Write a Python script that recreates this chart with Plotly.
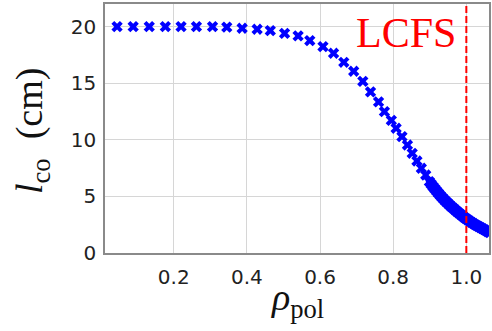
import plotly.graph_objects as go

# rho_pol sample positions (sparse part)
rho_sparse = [0.045, 0.089, 0.133, 0.177, 0.220, 0.262, 0.306, 0.345, 0.387, 0.428,
              0.464, 0.503, 0.540, 0.572, 0.608, 0.637, 0.665, 0.692, 0.717, 0.738,
              0.760, 0.776, 0.795, 0.808, 0.824, 0.839, 0.852, 0.865, 0.877, 0.889, 0.899]
lco_sparse = [20.0, 20.0, 20.0, 20.0, 20.0, 20.0, 20.0, 19.95, 19.86, 19.77,
              19.65, 19.41, 19.18, 18.77, 18.24, 17.65, 16.85, 16.06, 15.17, 14.23,
              13.35, 12.49, 11.72, 11.02, 10.28, 9.54, 8.81, 8.13, 7.49, 6.89, 6.30]

# dense part near the separatrix
rho_dense = [0.904, 0.909, 0.914, 0.919, 0.924, 0.929, 0.934, 0.939, 0.944, 0.949,
             0.954, 0.959, 0.964, 0.969, 0.974, 0.979, 0.984, 0.989, 0.994, 0.999,
             1.004, 1.009, 1.014, 1.019, 1.024, 1.029, 1.034, 1.039, 1.044, 1.049,
             1.054, 1.059, 1.064]
lco_dense = [6.08, 5.87, 5.66, 5.46, 5.27, 5.08, 4.90, 4.73, 4.56, 4.40,
             4.25, 4.10, 3.96, 3.82, 3.68, 3.55, 3.42, 3.29, 3.16, 3.04,
             2.93, 2.82, 2.71, 2.61, 2.51, 2.42, 2.33, 2.24, 2.15, 2.06,
             1.97, 1.88, 1.80]

x_ticks = [0.2, 0.4, 0.6, 0.8, 1.0]
y_ticks = [0, 5, 10, 15, 20]
lcfs_x = 1.0

fig = go.Figure()
fig.add_trace(go.Scatter(
    x=rho_sparse + rho_dense, y=lco_sparse + lco_dense,
    mode="markers",
    marker=dict(symbol="x", size=10, color="#0000ff", line=dict(width=0)),
    showlegend=False, cliponaxis=True,
))

fig.add_shape(type="line", xref="x", yref="paper", x0=lcfs_x, x1=lcfs_x, y0=0, y1=1,
              line=dict(color="#ff0000", width=2, dash="7px,3px"))

fig.add_annotation(x=0.975, y=19.4, xref="x", yref="y", text="LCFS",
                   showarrow=False, xanchor="right", yanchor="middle", borderpad=0,
                   font=dict(family="Liberation Serif", size=42, color="#ff0000"))

# axis titles
fig.add_annotation(x=0.5, y=-0.19, xref="paper", yref="paper",
                   text="<i>ρ</i><sub>pol</sub>", showarrow=False,
                   xanchor="center", yanchor="middle",
                   font=dict(family="Liberation Serif", size=38, color="#111111"))
fig.add_annotation(x=-0.19, y=0.49, xref="paper", yref="paper",
                   text="<i>l</i><sub>co</sub>&nbsp;&nbsp;(cm)", showarrow=False,
                   textangle=-90, xanchor="center", yanchor="middle",
                   font=dict(family="Liberation Serif", size=38, color="#111111"))

fig.update_layout(
    width=492, height=331,
    margin=dict(l=105, r=3, t=4, b=78, autoexpand=False),
    paper_bgcolor="white", plot_bgcolor="white",
    font=dict(family="DejaVu Sans", size=20, color="#222222"),
)
fig.update_xaxes(
    range=[0.012, 1.062], tickvals=x_ticks, ticktext=[f"{v:.1f}" for v in x_ticks],
    showgrid=True, gridcolor="#d6d6d6", gridwidth=1,
    showline=True, linecolor="#8a8a8a", linewidth=1.5, mirror=True,
    ticks="outside", ticklen=5, tickcolor="rgba(0,0,0,0)",
    zeroline=False, automargin=False,
)
fig.update_yaxes(
    range=[0, 22], tickvals=y_ticks, ticktext=[str(v) for v in y_ticks],
    showgrid=True, gridcolor="#d6d6d6", gridwidth=1,
    showline=True, linecolor="#8a8a8a", linewidth=1.5, mirror=True,
    ticks="outside", ticklen=3, tickcolor="rgba(0,0,0,0)",
    zeroline=False, automargin=False,
)

fig.write_html("out.html", config={"displayModeBar": False},
               post_script="document.body.style.margin='0';document.body.style.overflow='hidden';")
